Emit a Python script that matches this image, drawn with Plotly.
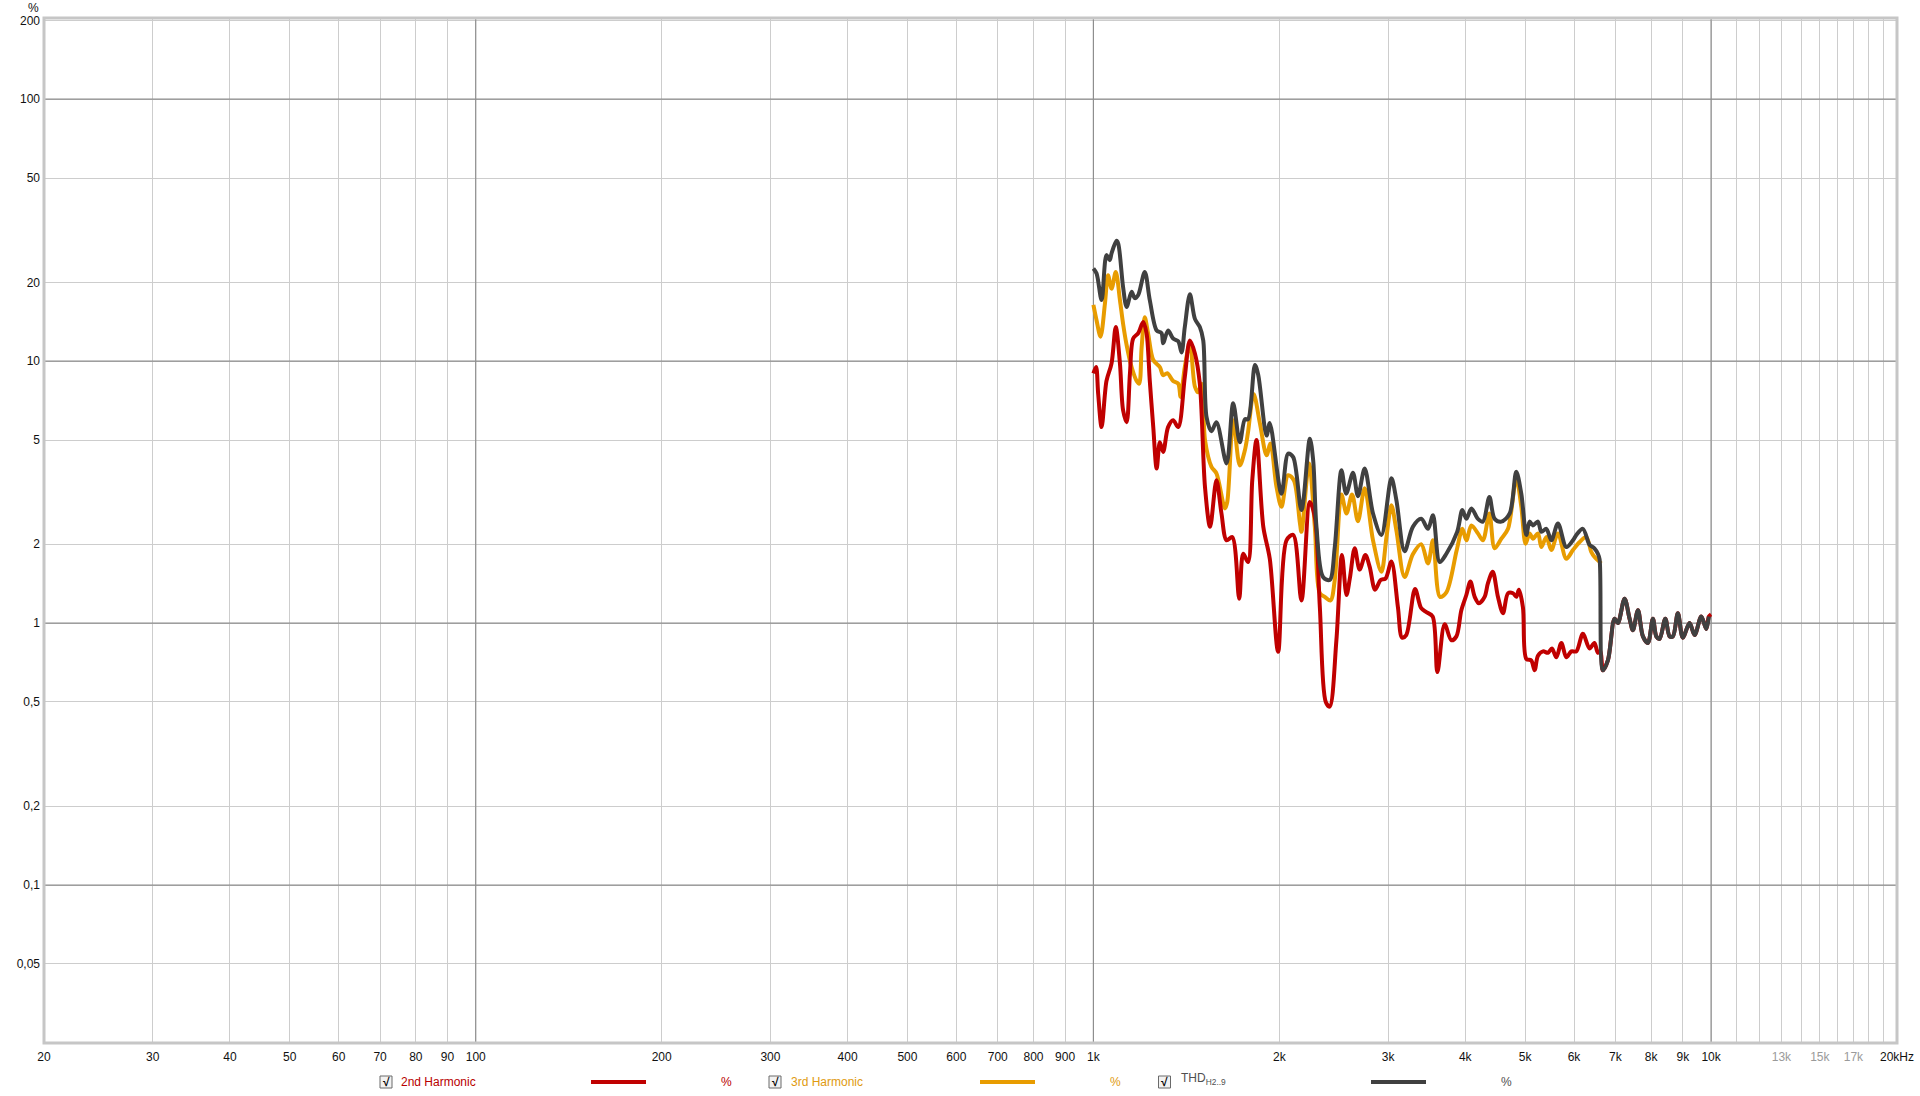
import math
import plotly.graph_objects as go

# ---------------- data ----------------
freq_thd = [1000, 1012, 1031, 1050, 1063, 1070, 1090, 1097, 1117, 1132, 1153, 1167, 1182, 1211, 1234,
            1266, 1289, 1297, 1321, 1346, 1372, 1389, 1406, 1433, 1460, 1487, 1506, 1525, 1553, 1582,
            1643, 1684, 1726, 1759, 1780, 1826, 1848, 1907, 1930, 2016, 2067, 2106, 2172, 2241, 2269,
            2297, 2354, 2413, 2459, 2521, 2566, 2632, 2681, 2749, 2836, 2926, 3037, 3094, 3190, 3290,
            3394, 3481, 3546, 3636, 3728, 3881, 3957, 4016, 4092, 4193, 4272, 4376, 4463, 4576, 4720,
            4838, 4929, 5022, 5084, 5147, 5245, 5312, 5412, 5513, 5651, 5830, 5975, 6052, 6201, 6357,
            6473, 6558, 6600, 6681, 6807, 6979, 7065, 7244, 7380, 7473, 7614, 7757, 7902, 8051, 8153,
            8255, 8432, 8568, 8674, 8836, 9000, 9230, 9405, 9642, 9823, 9918]
thd = [22.6, 21.6, 17.1, 25.4, 24.3, 25.8, 28.8, 28.1, 19.2, 16.1, 18.4, 17.4, 17.9, 21.9, 17.1,
       13.1, 12.8, 11.7, 13.1, 12.2, 11.9, 10.8, 13.5, 18.0, 14.5, 13.5, 12.0, 6.1, 5.4, 5.85,
       4.07, 6.9, 4.9, 6.0, 6.0, 9.66, 8.9, 5.2, 5.8, 3.12, 4.44, 4.3, 2.7, 5.06, 4.18,
       2.33, 1.50, 1.46, 1.95, 3.83, 3.12, 3.75, 3.05, 3.89, 2.62, 2.17, 3.57, 2.95, 1.88, 2.33,
       2.5, 2.29, 2.58, 1.71, 1.84, 2.23, 2.7, 2.5, 2.74, 2.5, 2.44, 3.03, 2.5, 2.44, 2.62,
       3.78, 3.12, 2.17, 2.44, 2.36, 2.44, 2.23, 2.29, 2.07, 2.4, 1.95, 2.07, 2.17, 2.29, 1.99,
       1.93, 1.84, 1.75, 0.66, 0.72, 1.04, 1.0, 1.24, 1.04, 0.94, 1.12, 0.89, 0.84, 1.04, 0.89,
       0.87, 1.04, 0.89, 0.89, 1.09, 0.88, 1.0, 0.9, 1.06, 0.95, 1.06]

freq_h3 = [1000, 1012, 1027, 1044, 1056, 1070, 1087, 1104, 1117, 1132, 1153, 1175, 1186, 1197, 1211,
           1226, 1250, 1281, 1297, 1317, 1346, 1372, 1384, 1406, 1433, 1460, 1478, 1497, 1516, 1553,
           1582, 1633, 1647, 1684, 1726, 1759, 1780, 1817, 1860, 1907, 1935, 1979, 2016, 2067, 2111,
           2158, 2172, 2234, 2283, 2326, 2369, 2420, 2459, 2521, 2569, 2623, 2681, 2749, 2836, 2926,
           2982, 3037, 3094, 3190, 3290, 3394, 3481, 3546, 3640, 3728, 3875, 3957, 4016, 4092, 4193,
           4272, 4376, 4463, 4576, 4691, 4838, 4929, 5009, 5084, 5147, 5245, 5312, 5412, 5513, 5651,
           5830, 5975, 6127, 6280, 6398, 6473, 6640]
h3 = [16.4, 14.3, 12.4, 16.6, 21.3, 18.9, 21.9, 17.1, 13.9, 11.5, 9.5, 8.4, 8.2, 11.3, 14.7,
      12.8, 10.1, 9.5, 8.84, 9.0, 8.4, 8.2, 7.3, 9.5, 11.7, 8.0, 7.6, 8.2, 5.0, 3.95,
      3.73, 2.74, 2.9, 5.95, 4.0, 4.57, 5.37, 7.5, 5.8, 4.37, 4.85, 3.31, 2.78, 3.67, 3.51,
      2.44, 2.23, 4.07, 2.33, 1.30, 1.26, 1.22, 1.46, 3.1, 2.62, 3.1, 2.45, 3.27, 2.07, 1.57,
      2.13, 2.82, 2.26, 1.50, 1.83, 2.0, 1.69, 2.07, 1.26, 1.31, 1.9, 2.29, 2.07, 2.36, 2.2,
      2.07, 2.62, 1.93, 2.1, 2.29, 3.57, 2.78, 2.01, 2.2, 2.1, 2.2, 1.95, 2.13, 1.90, 2.2,
      1.76, 1.9, 2.04, 2.13, 1.87, 1.79, 1.69]

freq_h2 = [1000, 1010, 1018, 1031, 1050, 1070, 1087, 1104, 1117, 1132, 1146, 1160, 1182, 1204, 1219,
           1234, 1250, 1266, 1281, 1297, 1321, 1346, 1372, 1406, 1433, 1460, 1487, 1516, 1545, 1582,
           1612, 1643, 1678, 1722, 1748, 1780, 1808, 1837, 1884, 1930, 1991, 2054, 2106, 2172, 2241,
           2283, 2326, 2378, 2413, 2474, 2526, 2569, 2601, 2649, 2698, 2756, 2801, 2858, 2918, 2972,
           3037, 3112, 3160, 3210, 3317, 3394, 3465, 3542, 3605, 3704, 3798, 3870, 3942, 4016, 4077,
           4143, 4209, 4299, 4353, 4431, 4518, 4604, 4691, 4779, 4838, 4885, 4959, 5022, 5116, 5180,
           5245, 5344, 5444, 5525, 5617, 5723, 5830, 5940, 6052, 6201, 6357, 6473, 6558, 6620, 6681,
           6807, 6979, 7065, 7244, 7380, 7473, 7614, 7757, 7902, 8051, 8153, 8255, 8432, 8568, 8674,
           8836, 9000, 9230, 9405, 9642, 9823, 9918, 10000]
h2 = [8.98, 9.5, 7.5, 5.6, 8.4, 9.8, 13.5, 9.8, 6.5, 5.85, 8.98, 12.2, 12.8, 14.1, 12.8,
      8.4, 5.6, 3.89, 4.9, 4.5, 5.6, 5.95, 5.6, 8.7, 12.0, 10.7, 8.2, 3.3, 2.33, 3.51,
      2.62, 2.07, 2.13, 1.24, 1.84, 1.71, 3.51, 5.0, 2.33, 1.76, 0.777, 2.07, 2.17, 1.22, 2.9,
      2.54, 1.15, 0.50, 0.48, 0.86, 1.82, 1.28, 1.48, 1.93, 1.6, 1.82, 1.64, 1.34, 1.46, 1.48,
      1.72, 1.15, 0.88, 0.9, 1.35, 1.14, 1.10, 1.06, 0.65, 0.99, 0.86, 0.89, 1.12, 1.28, 1.44,
      1.26, 1.19, 1.26, 1.42, 1.57, 1.26, 1.09, 1.30, 1.30, 1.26, 1.34, 1.15, 0.73, 0.72, 0.66,
      0.75, 0.78, 0.77, 0.80, 0.74, 0.84, 0.74, 0.78, 0.78, 0.91, 0.80, 0.84, 0.77, 0.78, 0.66,
      0.72, 1.04, 1.0, 1.24, 1.04, 0.94, 1.12, 0.89, 0.84, 1.04, 0.89, 0.87, 1.04, 0.89, 0.89,
      1.09, 0.88, 1.0, 0.9, 1.06, 0.95, 1.06, 1.08]

assert len(freq_thd) == len(thd), (len(freq_thd), len(thd))
assert len(freq_h3) == len(h3), (len(freq_h3), len(h3))
assert len(freq_h2) == len(h2), (len(freq_h2), len(h2))

series_names = ["2nd Harmonic", "3rd Harmonic", "THD<sub>H2..9</sub>"]
series_colors = ["#c00000", "#e89c00", "#404040"]
legend_text_colors = ["#b80000", "#e09a10", "#505050"]

x_ticks = [20, 30, 40, 50, 60, 70, 80, 90, 100, 200, 300, 400, 500, 600, 700, 800, 900,
           1000, 2000, 3000, 4000, 5000, 6000, 7000, 8000, 9000, 10000,
           11000, 12000, 13000, 14000, 15000, 16000, 17000, 18000, 19000, 20000]
x_labels = ["20", "30", "40", "50", "60", "70", "80", "90", "100", "200", "300", "400", "500",
            "600", "700", "800", "900", "1k", "2k", "3k", "4k", "5k", "6k", "7k", "8k", "9k", "10k",
            "", "", "<span style='color:#9a9a9a'>13k</span>", "",
            "<span style='color:#9a9a9a'>15k</span>", "",
            "<span style='color:#9a9a9a'>17k</span>", "", "", "20kHz"]
y_ticks = [0.05, 0.1, 0.2, 0.5, 1, 2, 5, 10, 20, 50, 100, 200]
y_labels = ["0,05", "0,1", "0,2", "0,5", "1", "2", "5", "10", "20", "50", "100", "200"]
x_decades = [100, 1000, 10000]
y_decades = [0.1, 1, 10, 100]

X_MIN, X_MAX = 20, 20000
Y_LOG_MIN, Y_LOG_MAX = -1.603, 2.310

FONT = "Liberation Sans, Arial, sans-serif"
LIGHT_GRID = "#cdcdcd"
DARK_GRID = "#8e8e8e"

fig = go.Figure()

# darker decade grid lines (drawn as traces under the data)
vx, vy = [], []
for d in x_decades:
    vx += [d, d, None]
    vy += [10 ** Y_LOG_MIN, 10 ** Y_LOG_MAX, None]
hx, hy = [], []
for d in y_decades:
    hx += [X_MIN, X_MAX, None]
    hy += [d, d, None]
fig.add_trace(go.Scatter(x=vx + hx, y=vy + hy, mode="lines",
                         line=dict(color=DARK_GRID, width=1.2),
                         hoverinfo="skip", showlegend=False))

# data traces
line_shape = dict(shape="spline", smoothing=0.9)
fig.add_trace(go.Scatter(x=freq_h3, y=h3, mode="lines", name="3rd Harmonic",
                         line=dict(color=series_colors[1], width=4, **line_shape), showlegend=False))
fig.add_trace(go.Scatter(x=freq_h2, y=h2, mode="lines", name="2nd Harmonic",
                         line=dict(color=series_colors[0], width=4, **line_shape), showlegend=False))
fig.add_trace(go.Scatter(x=freq_thd, y=thd, mode="lines", name="THD",
                         line=dict(color=series_colors[2], width=4, **line_shape), showlegend=False))

W, H = 1920, 1092
L, R, T, B = 44, 23, 18, 49
PW, PH = W - L - R, H - T - B
PLOT_BOTTOM = H - B


def px_x(px):
    return (px - L) / PW


def px_y(py):
    return (PLOT_BOTTOM - py) / PH


shapes = [dict(type="rect", xref="paper", yref="paper", x0=0, x1=1, y0=0, y1=1,
               line=dict(color="#c6c6c6", width=3), layer="above")]
annotations = [dict(text="%", xref="paper", yref="paper", x=px_x(33), y=px_y(8),
                    xanchor="center", yanchor="middle", showarrow=False,
                    font=dict(family=FONT, size=12, color="#111"))]

legend_box_x = [386, 775, 1164.5]
legend_text_x = [399, 789, 1179]
legend_line_x = [(591, 646), (980, 1035), (1371, 1426)]
legend_pct_x = [726, 1115, 1506]
LEG_Y = 1082
for i in range(3):
    bx = legend_box_x[i]
    shapes.append(dict(type="rect", xref="paper", yref="paper",
                       x0=px_x(bx - 6), x1=px_x(bx + 6), y0=px_y(LEG_Y + 6), y1=px_y(LEG_Y - 6),
                       line=dict(color="#6a6a6a", width=1), fillcolor="#f2f2f2", layer="above"))
    annotations.append(dict(text="<b>√</b>", xref="paper", yref="paper", x=px_x(bx), y=px_y(LEG_Y),
                            xanchor="center", yanchor="middle", showarrow=False,
                            font=dict(family=FONT, size=12, color="#000")))
    annotations.append(dict(text=series_names[i], xref="paper", yref="paper",
                            x=px_x(legend_text_x[i]), y=px_y(LEG_Y - (3 if i == 2 else 0)),
                            xanchor="left", yanchor="middle", showarrow=False,
                            font=dict(family=FONT, size=12, color=legend_text_colors[i])))
    x0, x1 = legend_line_x[i]
    shapes.append(dict(type="line", xref="paper", yref="paper", x0=px_x(x0), x1=px_x(x1),
                       y0=px_y(LEG_Y), y1=px_y(LEG_Y),
                       line=dict(color=series_colors[i], width=4)))
    annotations.append(dict(text="%", xref="paper", yref="paper", x=px_x(legend_pct_x[i]),
                            y=px_y(LEG_Y), xanchor="center", yanchor="middle", showarrow=False,
                            font=dict(family=FONT, size=12, color=legend_text_colors[i])))

fig.update_layout(
    width=W, height=H,
    margin=dict(l=L, r=R, t=T, b=B, pad=0),
    paper_bgcolor="white", plot_bgcolor="white",
    font=dict(family=FONT, size=12, color="#111"),
    shapes=shapes, annotations=annotations,
    showlegend=False,
)
fig.update_xaxes(type="log", range=[math.log10(X_MIN), math.log10(X_MAX)],
                 tickmode="array", tickvals=x_ticks, ticktext=x_labels, tickangle=0,
                 showgrid=True, gridcolor=LIGHT_GRID, gridwidth=1,
                 zeroline=False, showline=False, ticks="", automargin=False,
                 ticklabelstandoff=5,
                 tickfont=dict(family=FONT, size=12, color="#111"))
fig.update_yaxes(type="log", range=[Y_LOG_MIN, Y_LOG_MAX],
                 tickmode="array", tickvals=y_ticks, ticktext=y_labels,
                 showgrid=True, gridcolor=LIGHT_GRID, gridwidth=1,
                 zeroline=False, showline=False, ticks="", automargin=False,
                 ticklabelstandoff=3,
                 tickfont=dict(family=FONT, size=12, color="#111"))

fig.write_html(
    "out.html",
    config={"displayModeBar": False},
    post_script=("document.documentElement.style.margin='0';document.body.style.margin='0';"
                 "document.documentElement.style.overflow='hidden';document.body.style.overflow='hidden';"),
)
